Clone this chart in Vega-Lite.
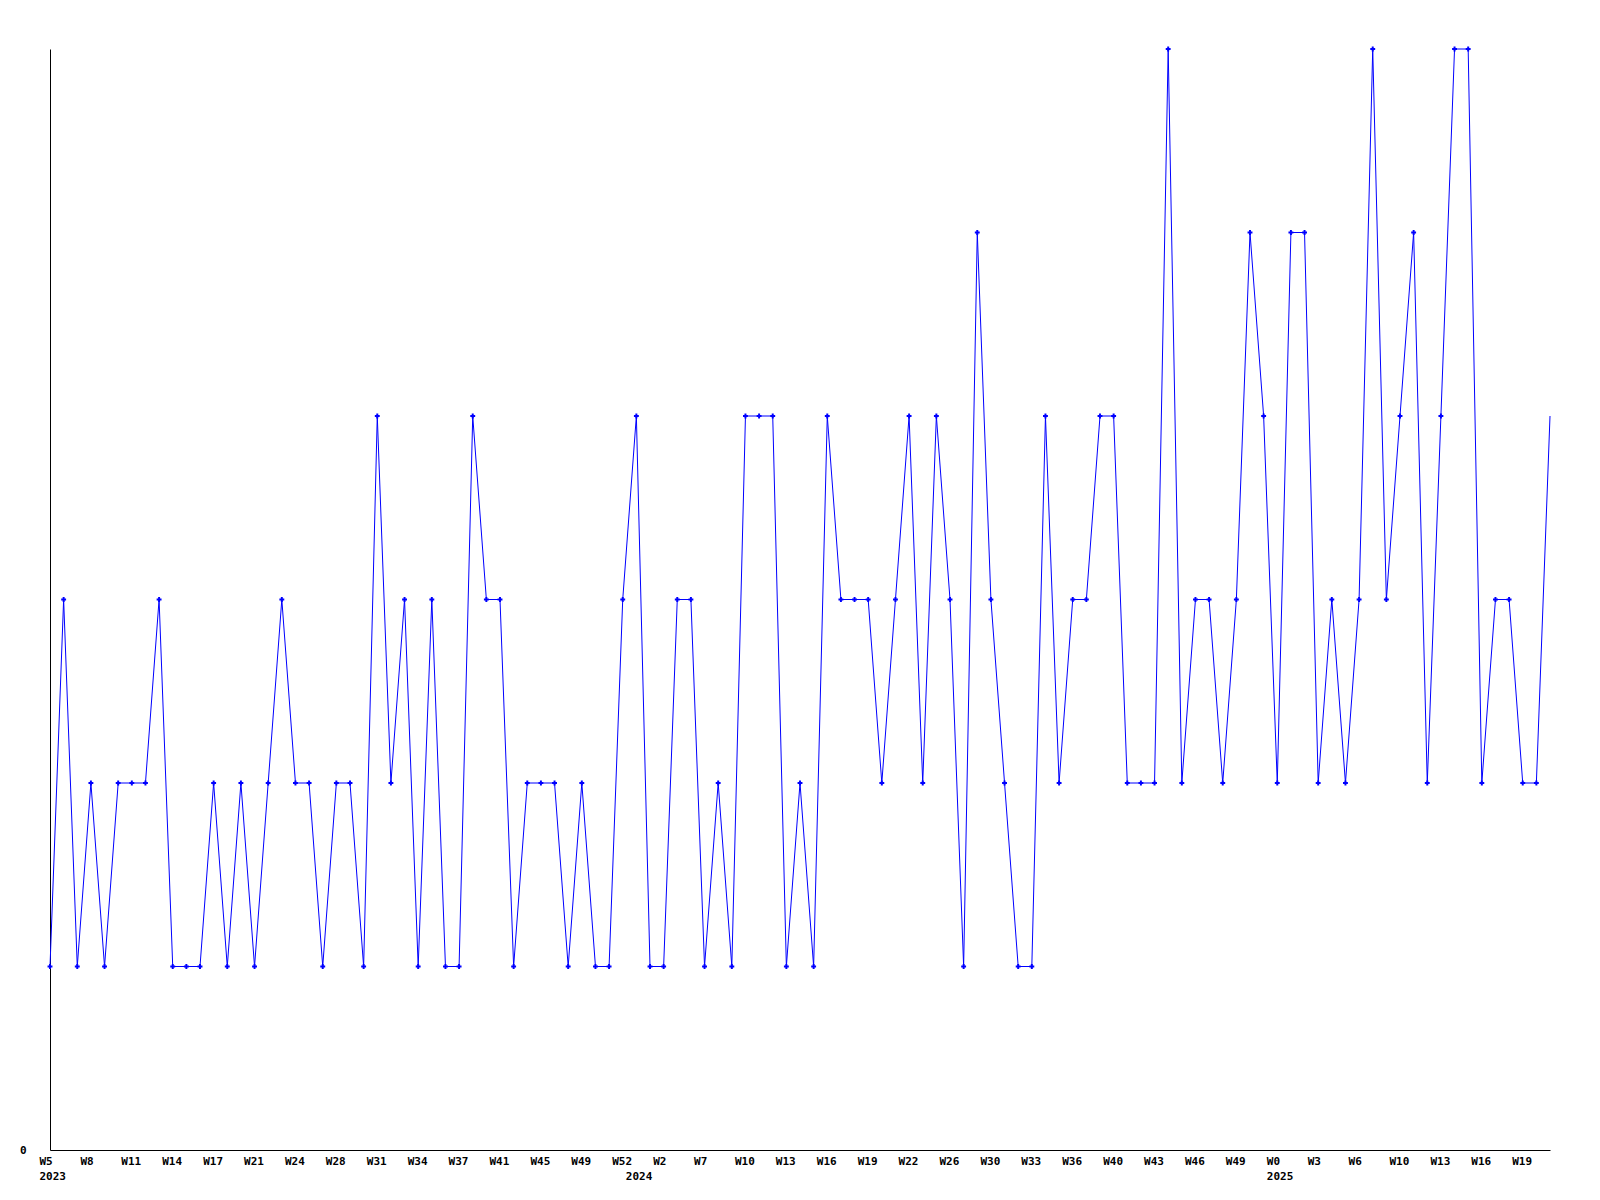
{
  "$schema": "https://vega.github.io/schema/vega-lite/v6.json",
  "width": 1500,
  "height": 1101,
  "autosize": {"type": "none"},
  "padding": {"left": 50, "top": 49, "right": 50, "bottom": 50},
  "background": "white",
  "config": {
    "view": {"stroke": null},
    "axis": {"labelFont": "DejaVu Sans Mono", "labelFontWeight": "bold", "labelFontSize": 11, "labelColor": "black", "domainColor": "black", "domainWidth": 1, "ticks": false, "grid": false, "title": null}
  },
  "data": {
    "values": [
      {"n":0,"v":1},{"n":1,"v":3},{"n":2,"v":1},{"n":3,"v":2},{"n":4,"v":1},{"n":5,"v":2},{"n":6,"v":2},{"n":7,"v":2},{"n":8,"v":3},{"n":9,"v":1},
      {"n":10,"v":1},{"n":11,"v":1},{"n":12,"v":2},{"n":13,"v":1},{"n":14,"v":2},{"n":15,"v":1},{"n":16,"v":2},{"n":17,"v":3},{"n":18,"v":2},{"n":19,"v":2},
      {"n":20,"v":1},{"n":21,"v":2},{"n":22,"v":2},{"n":23,"v":1},{"n":24,"v":4},{"n":25,"v":2},{"n":26,"v":3},{"n":27,"v":1},{"n":28,"v":3},{"n":29,"v":1},
      {"n":30,"v":1},{"n":31,"v":4},{"n":32,"v":3},{"n":33,"v":3},{"n":34,"v":1},{"n":35,"v":2},{"n":36,"v":2},{"n":37,"v":2},{"n":38,"v":1},{"n":39,"v":2},
      {"n":40,"v":1},{"n":41,"v":1},{"n":42,"v":3},{"n":43,"v":4},{"n":44,"v":1},{"n":45,"v":1},{"n":46,"v":3},{"n":47,"v":3},{"n":48,"v":1},{"n":49,"v":2},
      {"n":50,"v":1},{"n":51,"v":4},{"n":52,"v":4},{"n":53,"v":4},{"n":54,"v":1},{"n":55,"v":2},{"n":56,"v":1},{"n":57,"v":4},{"n":58,"v":3},{"n":59,"v":3},
      {"n":60,"v":3},{"n":61,"v":2},{"n":62,"v":3},{"n":63,"v":4},{"n":64,"v":2},{"n":65,"v":4},{"n":66,"v":3},{"n":67,"v":1},{"n":68,"v":5},{"n":69,"v":3},
      {"n":70,"v":2},{"n":71,"v":1},{"n":72,"v":1},{"n":73,"v":4},{"n":74,"v":2},{"n":75,"v":3},{"n":76,"v":3},{"n":77,"v":4},{"n":78,"v":4},{"n":79,"v":2},
      {"n":80,"v":2},{"n":81,"v":2},{"n":82,"v":6},{"n":83,"v":2},{"n":84,"v":3},{"n":85,"v":3},{"n":86,"v":2},{"n":87,"v":3},{"n":88,"v":5},{"n":89,"v":4},
      {"n":90,"v":2},{"n":91,"v":5},{"n":92,"v":5},{"n":93,"v":2},{"n":94,"v":3},{"n":95,"v":2},{"n":96,"v":3},{"n":97,"v":6},{"n":98,"v":3},{"n":99,"v":4},
      {"n":100,"v":5},{"n":101,"v":2},{"n":102,"v":4},{"n":103,"v":6},{"n":104,"v":6},{"n":105,"v":2},{"n":106,"v":3},{"n":107,"v":3},{"n":108,"v":2},{"n":109,"v":2},
      {"n":110,"v":4}
    ]
  },
  "encoding": {
    "x": {
      "field": "n", "type": "quantitative",
      "scale": {"domain": [0, 110], "nice": false, "zero": false},
      "axis": {
        "values": [0,3,6,9,12,15,18,21,24,27,30,33,36,39,42,43,45,48,51,54,57,60,63,66,69,72,75,78,81,84,87,90,93,96,99,102,105,108],
        "labelExpr": "datum.value == 43 ? ['', '2024'] : datum.value == 0 ? ['W5', '2023'] : datum.value == 90 ? ['W0', '2025'] : ['W5','W8','W11','W14','W17','W21','W24','W28','W31','W34','W37','W41','W45','W49','W52','W2','W7','W10','W13','W16','W19','W22','W26','W30','W33','W36','W40','W43','W46','W49','W0','W3','W6','W10','W13','W16','W19'][datum.value / 3]",
        "labelAlign": "left",
        "labelOffset": -11,
        "labelBaseline": "top",
        "labelPadding": 5,
        "labelLineHeight": 15,
        "labelOverlap": false,
        "labelBound": false,
        "labelFlush": false
      }
    },
    "y": {
      "field": "v", "type": "quantitative",
      "scale": {"domain": [0, 6], "nice": false},
      "axis": {"values": [0], "labelPadding": 24, "labelBaseline": "middle"}
    }
  },
  "layer": [
    {"mark": {"type": "line", "color": "#0000ff", "strokeWidth": 1, "interpolate": "linear"}},
    {
      "transform": [{"filter": "datum.n < 110"}],
      "mark": {"type": "point", "shape": "cross", "size": 24, "filled": true, "color": "#0000ff", "opacity": 1}
    }
  ]
}
